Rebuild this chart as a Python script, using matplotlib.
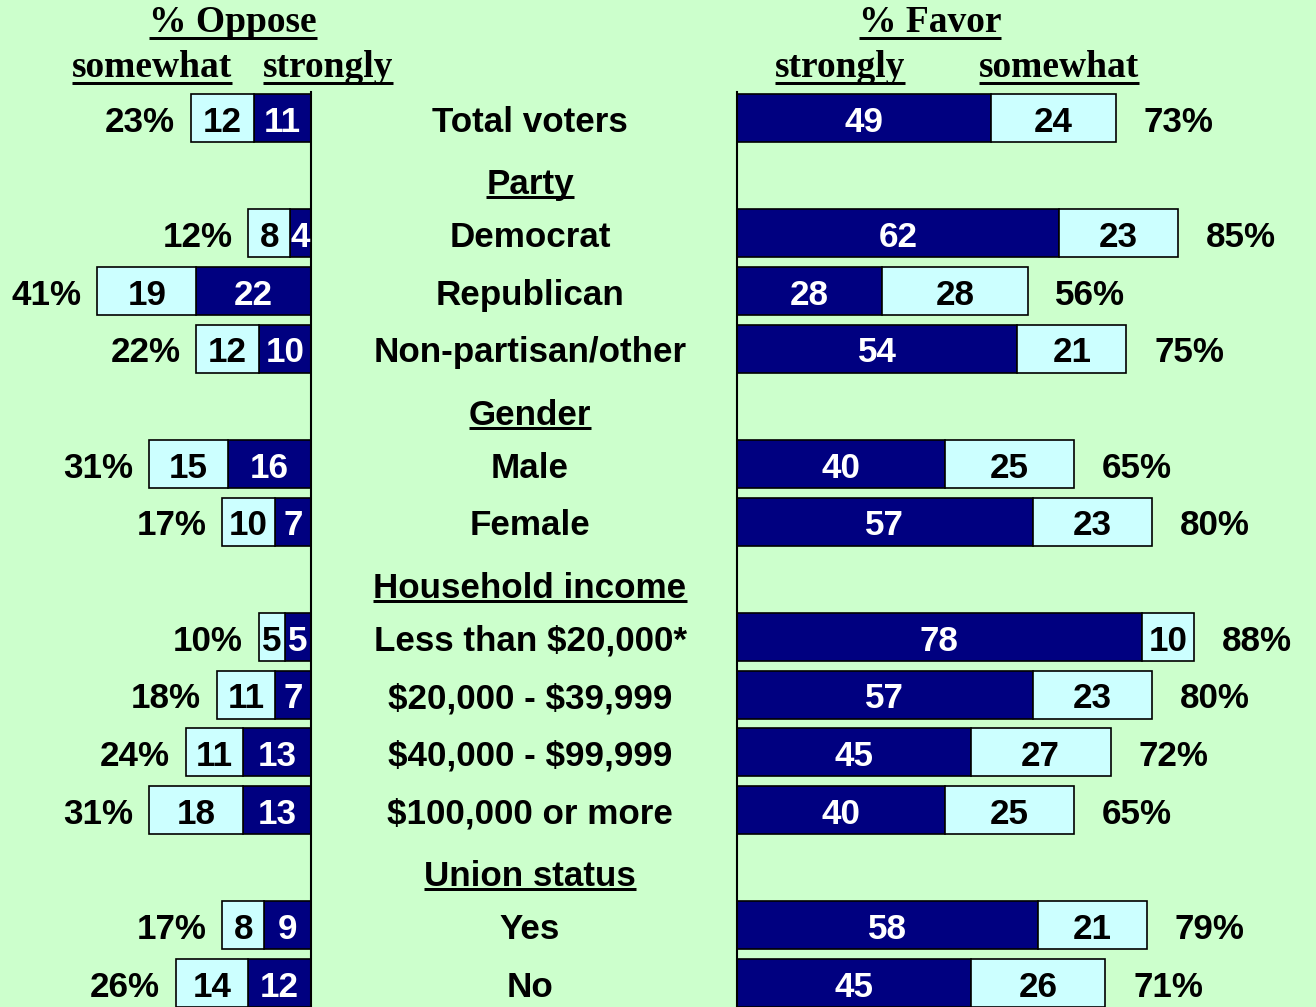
import numpy as np
import matplotlib
matplotlib.use("Agg")
import matplotlib.pyplot as plt
from matplotlib.transforms import offset_copy, blended_transform_factory
from matplotlib.lines import Line2D

plt.rcParams['font.family'] = ['Liberation Sans', 'DejaVu Sans']
plt.rcParams['font.weight'] = 'bold'
plt.rcParams['text.parse_math'] = False

# ---------------- data ----------------
labels = ["Total voters", "Party", "Democrat", "Republican", "Non-partisan/other",
          "Gender", "Male", "Female", "Household income", "Less than $20,000*",
          "$20,000 - $39,999", "$40,000 - $99,999", "$100,000 or more",
          "Union status", "Yes", "No"]
is_header = [False, True, False, False, False, True, False, False, True,
             False, False, False, False, True, False, False]
nan = np.nan
oppose_strongly = [11, nan, 4, 22, 10, nan, 16, 7, nan, 5, 7, 13, 13, nan, 9, 12]
oppose_somewhat = [12, nan, 8, 19, 12, nan, 15, 10, nan, 5, 11, 11, 18, nan, 8, 14]
oppose_total = [23, nan, 12, 41, 22, nan, 31, 17, nan, 10, 18, 24, 31, nan, 17, 26]
favor_strongly = [49, nan, 62, 28, 54, nan, 40, 57, nan, 78, 57, 45, 40, nan, 58, 45]
favor_somewhat = [24, nan, 23, 28, 21, nan, 25, 23, nan, 10, 23, 27, 25, nan, 21, 26]
favor_total = [73, nan, 85, 56, 75, nan, 65, 80, nan, 88, 80, 72, 65, nan, 79, 71]

# ---------------- style ----------------
BG = '#CCFFCC'
DARK = '#000080'
LIGHT = '#CCFFFF'
FS = 25.2
HFS = 27

W, H = 1316, 1007
fig = plt.figure(figsize=(W / 100, H / 100), dpi=100, facecolor=BG)

ax_top_px = 92
row_px = 57.67
first_px = 118
left_axis_px = 311
right_axis_px = 737
ppu_left = 5.21
ppu_right = 5.19

axL = fig.add_axes([0, 0, left_axis_px / W, (H - ax_top_px) / H])
axR = fig.add_axes([right_axis_px / W, 0, (W - right_axis_px) / W, (H - ax_top_px) / H])
ylim = ((H - first_px) / row_px, (ax_top_px - first_px) / row_px)
for ax in (axL, axR):
    ax.set_ylim(*ylim)
    ax.set_facecolor('none')
    ax.set_xticks([])
    ax.set_yticks([])
    for s in ax.spines.values():
        s.set_visible(False)
axL.spines['right'].set_visible(True)
axL.spines['right'].set_linewidth(1.5)
axR.spines['left'].set_visible(True)
axR.spines['left'].set_linewidth(1.5)
axL.set_xlim(left_axis_px / ppu_left, 0)
axR.set_xlim(0, (W - right_axis_px) / ppu_right)

y = np.arange(len(labels), dtype=float)
os_ = np.array(oppose_strongly, float)
osw = np.array(oppose_somewhat, float)
ot = np.array(oppose_total, float)
fs_ = np.array(favor_strongly, float)
fsw = np.array(favor_somewhat, float)
ft = np.array(favor_total, float)
m = ~np.isnan(os_)

bh = 0.83
axL.barh(y[m], os_[m], height=bh, color=DARK, edgecolor='black', linewidth=1.2)
axL.barh(y[m], osw[m], left=os_[m], height=bh, color=LIGHT, edgecolor='black', linewidth=1.2)
axR.barh(y[m], fs_[m], height=bh, color=DARK, edgecolor='black', linewidth=1.2)
axR.barh(y[m], fsw[m], left=fs_[m], height=bh, color=LIGHT, edgecolor='black', linewidth=1.2)

VOFF = -9.8
for ax in (axL, axR):
    tr = offset_copy(ax.transData, fig=fig, y=VOFF, units='points')
    if ax is axL:
        a, b, tot, dx, ha = os_, osw, ot, -11.5, 'right'
    else:
        a, b, tot, dx, ha = fs_, fsw, ft, 20, 'left'
    trt = offset_copy(ax.transData, fig=fig, x=dx, y=VOFF, units='points')
    for yi, s1, s2, t in zip(y[m], a[m], b[m], tot[m]):
        ax.text(s1 / 2, yi, f"{int(s1)}", transform=tr, ha='center', va='baseline',
                color='white', fontsize=FS, fontweight='bold')
        ax.text(s1 + s2 / 2, yi, f"{int(s2)}", transform=tr, ha='center', va='baseline',
                color='black', fontsize=FS, fontweight='bold')
        ax.text(t, yi, f"{int(t)}%", transform=trt, ha=ha, va='baseline',
                color='black', fontsize=FS, fontweight='bold')

# centre labels
cx = 530 / W
btr = blended_transform_factory(fig.transFigure, axR.transData)
center_texts = []
for yi, lab, hd in zip(y, labels, is_header):
    tr = offset_copy(btr, fig=fig, y=(-13.5 if hd else VOFF), units='points')
    t = fig.text(cx, yi, lab, transform=tr, ha='center', va='baseline',
                 fontsize=FS, fontweight='bold', color='black')
    if hd:
        center_texts.append(t)

# column headers (serif)
hdrs = [("% Oppose", 233, 32), ("somewhat", 152, 77), ("strongly", 328, 77),
        ("% Favor", 930, 32), ("strongly", 840, 77), ("somewhat", 1059, 77)]
hdr_texts = []
for txt, xp, yp in hdrs:
    t = fig.text(xp / W, 1 - yp / H, txt, ha='center', va='baseline',
                 fontsize=HFS, fontweight='bold', family=['Liberation Serif', 'DejaVu Serif'])
    hdr_texts.append((t, 5.5))

fig.canvas.draw()
r = fig.canvas.get_renderer()


def underline(t, gap_px, lw_px=3):
    bb = t.get_window_extent(r)
    base = t.get_transform().transform(t.get_position())[1]
    yy = base - gap_px
    fig.add_artist(Line2D([bb.x0, bb.x1], [yy, yy], transform=None,
                          color='black', linewidth=lw_px * 0.72, solid_capstyle='butt'))


for t, g in hdr_texts:
    underline(t, g)
for t in center_texts:
    underline(t, 3)

fig.savefig('out.png', dpi=100, facecolor=BG)
